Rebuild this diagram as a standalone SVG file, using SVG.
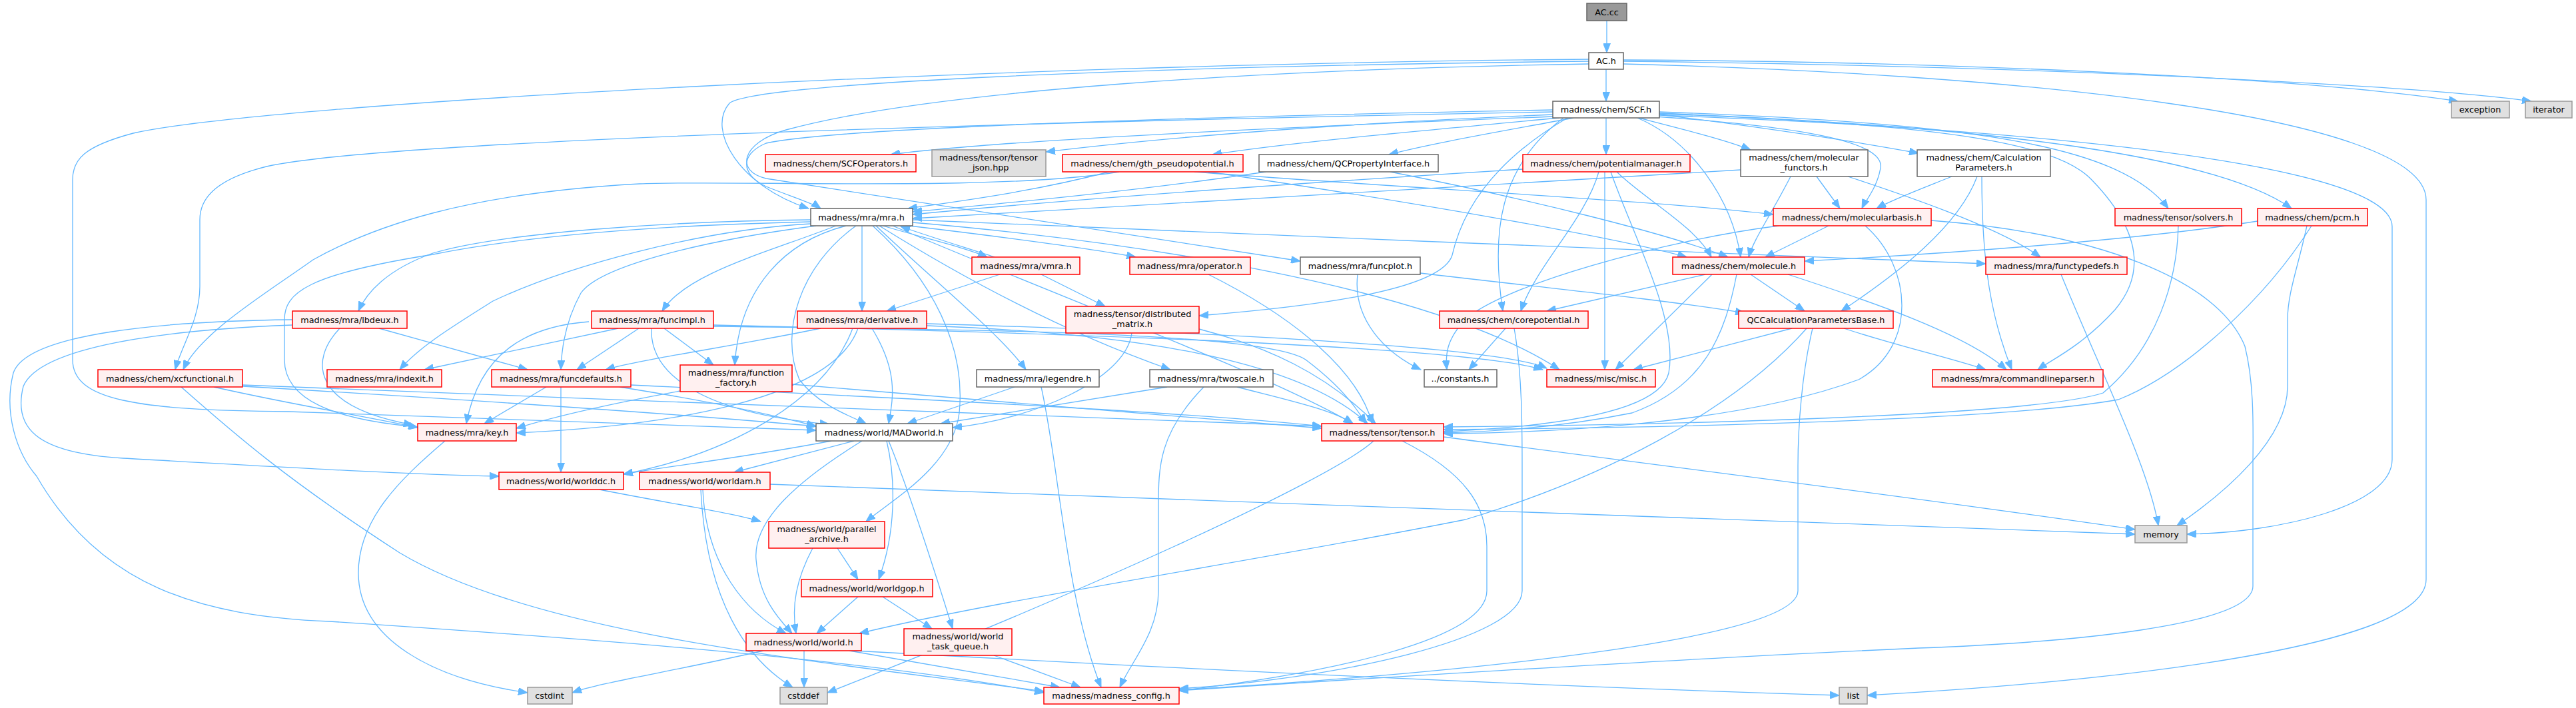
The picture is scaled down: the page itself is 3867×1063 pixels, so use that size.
<svg xmlns="http://www.w3.org/2000/svg" width="3867" height="1063" viewBox="0 0 3867 1063">
<style>
.e path{fill:none;stroke:#63b8ff;stroke-width:1.3;marker-end:url(#a)}
text{font-family:"DejaVu Sans","Liberation Sans",Arial,sans-serif;font-size:12.8px;text-anchor:middle;fill:#000}
.r rect{fill:#fff0f0;stroke:#ff0000;stroke-width:1.5}
.w rect{fill:#ffffff;stroke:#666666;stroke-width:1.5}
.g rect{fill:#e0e0e0;stroke:#999999;stroke-width:1.5}
.d rect{fill:#999999;stroke:#666666;stroke-width:1.5}
</style>
<defs>
<marker id="a" markerUnits="userSpaceOnUse" markerWidth="15" markerHeight="11" refX="14" refY="5.5" orient="auto"><path d="M0,0 L14,5.5 L0,11 z" fill="#63b8ff" stroke="#63b8ff"/></marker>
</defs>
<rect width="3867" height="1063" fill="#ffffff"/>
<g id="edges" class="e">
<path d="M2412,31 L2412,79"/>
<path d="M2411,104 L2411,152"/>
<path d="M2437,90 C2900,92 3450,115 3690,152"/>
<path d="M2437,92 C3000,98 3600,125 3800,152"/>
<path d="M2437,96 C3000,110 3642,170 3642,300 L3642,870 C3642,985 3050,1030 2803,1044"/>
<path d="M2385,92 C1700,100 1130,125 1095,155 C1060,195 1110,280 1214,313"/>
<path d="M2385,96 C1900,104 1400,135 1180,195 C1110,215 1105,258 1150,268 L1952,392"/>
<path d="M2385,89 C1500,96 400,155 200,200 C125,220 109,240 109,270 L109,540 C109,600 200,616 433,618 C750,628 1000,640 1225,646"/>
<path d="M2331,175 C2000,188 1500,210 1337,232"/>
<path d="M2331,172 C2100,182 1800,200 1570,228"/>
<path d="M2340,177 C2150,195 1950,212 1820,232"/>
<path d="M2362,177 C2250,198 2150,215 2085,232"/>
<path d="M2411,177 L2411,232"/>
<path d="M2460,177 C2530,195 2590,210 2628,225"/>
<path d="M2491,172 C2620,188 2760,208 2880,230"/>
<path d="M2485,175 C2700,190 2830,212 2823,252 C2818,282 2800,302 2795,313"/>
<path d="M2491,168 C2950,185 3180,215 3255,313"/>
<path d="M2491,170 C3000,190 3330,235 3440,313"/>
<path d="M2491,173 C3200,200 3591,260 3591,340 L3591,690 C3591,760 3420,800 3283,802"/>
<path d="M2491,171 C2900,186 3085,212 3140,270 C3200,332 3230,400 3175,465 C3125,520 3080,540 3059,555"/>
<path d="M2331,168 C1800,178 600,205 400,250 C320,270 300,300 300,330 L300,430 C300,480 272,520 263,555"/>
<path d="M2331,165 C1800,175 1250,192 1150,215 C1110,232 1112,262 1150,280 C1190,296 1222,306 1232,313"/>
<path d="M2458,177 C2540,212 2600,300 2613,386"/>
<path d="M2347,177 C2250,250 2238,350 2256,467"/>
<path d="M2353,177 C2228,250 2192,330 2180,383 C2165,432 2000,458 1800,474"/>
<path d="M2409,258 L2409,555"/>
<path d="M2400,258 C2380,330 2305,400 2283,467"/>
<path d="M2427,258 C2470,300 2545,340 2569,386"/>
<path d="M2418,258 C2450,350 2520,480 2505,560 C2490,625 2300,642 2167,648"/>
<path d="M2286,254 C1900,278 1600,300 1370,322"/>
<path d="M2087,258 C2300,300 2500,350 2594,386"/>
<path d="M1900,258 C1700,288 1500,306 1370,318"/>
<path d="M1680,258 C1500,288 1100,270 960,276 C700,290 560,340 470,390 C400,440 300,500 275,555"/>
<path d="M1665,258 C1550,288 1440,302 1363,313"/>
<path d="M1793,258 C2100,282 2500,302 2662,322"/>
<path d="M1814,258 C2100,300 2420,355 2532,386"/>
<path d="M2613,255 C2200,282 1700,305 1370,328"/>
<path d="M2688,265 C2660,320 2632,360 2625,386"/>
<path d="M2727,265 L2762,313"/>
<path d="M2774,265 C2850,290 3000,340 3063,386"/>
<path d="M2930,265 C2880,285 2840,300 2817,313"/>
<path d="M2968,265 C2940,340 2850,410 2764,467"/>
<path d="M2975,265 C2975,400 2990,480 3020,555"/>
<path d="M2745,339 L2650,386"/>
<path d="M2800,339 C2870,400 2880,520 2790,570 C2600,640 2300,650 2167,651"/>
<path d="M2899,331 C3150,350 3330,420 3370,520 C3385,580 3382,650 3382,700 L3382,880 C3382,940 3100,965 2880,973 C2500,990 1950,1025 1770,1037"/>
<path d="M2670,339 C2500,360 2250,430 2200,480 C2170,510 2170,535 2172,555"/>
<path d="M3389,332 C3200,362 2900,382 2709,392"/>
<path d="M3463,339 C3450,400 3434,440 3434,480 L3434,580 C3434,660 3340,740 3268,789"/>
<path d="M3470,339 C3400,450 3280,560 3180,600 C3000,632 2500,642 2167,645"/>
<path d="M3270,339 C3268,420 3240,520 3157,590 C3050,625 2500,638 2167,641"/>
<path d="M3094,412 C3150,550 3225,700 3240,789"/>
<path d="M1217,330 C1000,332 750,350 650,380 C580,405 550,440 538,467"/>
<path d="M1217,333 C1000,338 800,352 650,382 C460,412 427,440 427,480 L427,540 C427,600 500,630 627,641"/>
<path d="M1217,336 C1050,345 850,400 740,452 C680,490 630,520 600,555"/>
<path d="M1255,339 C1150,380 1030,410 994,467"/>
<path d="M1225,339 C1050,362 900,400 872,440 C850,480 843,520 842,555"/>
<path d="M1270,339 C1180,362 1110,430 1103,548"/>
<path d="M1294,339 L1294,467"/>
<path d="M1285,339 C1200,400 1170,500 1200,570 C1230,610 1280,626 1300,636"/>
<path d="M1315,339 C1400,420 1500,500 1540,555"/>
<path d="M1320,339 C1450,420 1600,500 1757,555"/>
<path d="M1325,339 C1390,358 1450,372 1482,386"/>
<path d="M1493,386 C1450,372 1395,355 1352,340"/>
<path d="M1365,339 C1500,355 1650,375 1705,386"/>
<path d="M1370,330 C1800,350 2600,380 2981,396"/>
<path d="M1370,334 C1700,362 2150,430 2341,555"/>
<path d="M1340,339 C1600,450 1900,560 2031,636"/>
<path d="M1310,339 C1400,420 1450,520 1440,620 C1430,700 1340,750 1300,783"/>
<path d="M2132,410 C2300,430 2500,450 2619,470"/>
<path d="M2038,412 C2030,480 2080,530 2133,555"/>
<path d="M1501,412 L1331,467"/>
<path d="M1563,412 L1659,460"/>
<path d="M1814,412 C1950,480 2040,560 2060,636"/>
<path d="M439,480 C250,482 40,500 20,560 C5,620 25,680 55,715 C150,880 300,925 495,933 C900,960 1300,990 1567,1040"/>
<path d="M439,488 C250,495 60,520 35,580 C20,640 50,680 185,688 C400,700 600,712 749,715"/>
<path d="M510,493 C465,540 465,610 620,638"/>
<path d="M569,493 L792,555"/>
<path d="M884,483 C790,490 720,530 700,636"/>
<path d="M928,493 L637,555"/>
<path d="M959,493 L866,555"/>
<path d="M997,493 L1071,548"/>
<path d="M978,493 C975,560 1050,620 1245,637"/>
<path d="M1071,490 C1500,495 1900,500 1960,540 C2000,570 2030,600 2050,636"/>
<path d="M1071,488 C1600,500 2200,520 2316,555"/>
<path d="M1232,493 C1100,520 960,540 909,555"/>
<path d="M1288,493 C1250,600 1000,640 775,650"/>
<path d="M1309,493 C1350,560 1340,600 1334,636"/>
<path d="M1391,489 C1700,500 1950,540 2053,636"/>
<path d="M1391,486 C1800,498 2250,520 2322,553"/>
<path d="M1280,493 C1240,600 1100,680 936,712"/>
<path d="M1021,587 C950,600 850,620 775,643"/>
<path d="M1189,577 C1600,610 1850,630 1984,643"/>
<path d="M1800,494 C1900,520 1990,560 2065,636"/>
<path d="M1699,500 C1690,570 1550,630 1430,642"/>
<path d="M1523,581 L1362,636"/>
<path d="M1563,581 C1590,700 1600,900 1653,1032"/>
<path d="M1752,581 L1412,636"/>
<path d="M1807,581 C1740,650 1739,700 1739,760 L1739,887 C1739,950 1700,990 1681,1032"/>
<path d="M1857,581 C1930,600 2000,615 2031,636"/>
<path d="M321,581 C450,610 550,625 627,642"/>
<path d="M365,580 C700,600 1000,620 1225,640"/>
<path d="M364,578 C900,600 1600,625 1984,640"/>
<path d="M272,581 C350,650 430,720 600,830 C800,950 1200,990 1567,1038"/>
<path d="M820,581 L727,636"/>
<path d="M842,581 L842,709"/>
<path d="M947,578 C1400,600 1800,620 1984,640"/>
<path d="M930,581 C1050,600 1150,620 1225,640"/>
<path d="M668,662 C600,720 538,780 538,860 C538,960 650,1020 792,1040"/>
<path d="M1248,662 C1100,690 1000,700 936,712"/>
<path d="M1282,662 L1102,709"/>
<path d="M1294,662 C1200,720 1130,780 1135,840 C1140,900 1170,930 1189,951"/>
<path d="M1331,662 C1345,720 1345,800 1319,870"/>
<path d="M1334,662 C1370,750 1410,880 1430,944"/>
<path d="M2062,662 C2000,720 1600,900 1242,1040"/>
<path d="M2105,662 C2200,710 2232,760 2232,820 L2232,887 C2232,960 2000,1010 1770,1037"/>
<path d="M2167,656 C2500,700 2900,750 3205,795"/>
<path d="M2260,493 L2205,555"/>
<path d="M2273,493 C2285,560 2285,640 2285,700 L2285,887 C2285,960 2000,1020 1770,1034"/>
<path d="M2690,493 L2452,555"/>
<path d="M2712,493 C2600,620 2400,720 2200,780 C1900,840 1500,900 1290,951"/>
<path d="M2721,493 C2705,560 2699,640 2699,700 L2699,887 C2699,960 2200,1010 1770,1036"/>
<path d="M2768,493 C2850,520 2920,535 2981,555"/>
<path d="M2560,412 L2322,467"/>
<path d="M2570,412 L2425,555"/>
<path d="M2628,412 L2709,467"/>
<path d="M2607,412 C2590,500 2560,580 2450,620 C2350,640 2250,648 2167,650"/>
<path d="M2684,412 C2800,450 2950,500 3012,555"/>
<path d="M900,735 C1000,755 1100,770 1142,783"/>
<path d="M1055,735 C1060,850 1120,920 1180,951"/>
<path d="M1052,735 C1060,900 1120,990 1190,1032"/>
<path d="M1155,727 C1800,750 2800,790 3205,802"/>
<path d="M1257,823 L1288,870"/>
<path d="M1220,823 C1195,870 1188,910 1195,951"/>
<path d="M1288,896 L1226,951"/>
<path d="M1325,896 L1399,944"/>
<path d="M1207,977 L1207,1032"/>
<path d="M1275,977 L1591,1032"/>
<path d="M1282,977 C1700,1000 2300,1030 2761,1044"/>
<path d="M1146,977 C1000,1010 900,1025 859,1040"/>
<path d="M1492,984 L1622,1032"/>
</g>
<g id="node-AC_cc" class="d"><rect x="2382" y="5" width="60" height="26"/><text x="2412" y="23">AC.cc</text></g>
<g id="node-AC_h" class="w"><rect x="2385" y="79" width="52" height="25"/><text x="2411" y="96">AC.h</text></g>
<g id="node-SCF_h" class="w"><rect x="2331" y="152" width="160" height="25"/><text x="2411" y="169">madness/chem/SCF.h</text></g>
<g id="node-exception" class="g"><rect x="3680" y="152" width="87" height="25"/><text x="3723" y="169">exception</text></g>
<g id="node-iterator" class="g"><rect x="3791" y="152" width="70" height="25"/><text x="3826" y="169">iterator</text></g>
<g id="node-SCFOperators" class="r"><rect x="1149" y="232" width="226" height="26"/><text x="1262" y="250">madness/chem/SCFOperators.h</text></g>
<g id="node-tensor_json" class="g"><rect x="1399" y="225" width="171" height="40"/><text x="1484" y="241">madness/tensor/tensor</text><text x="1484" y="256">_json.hpp</text></g>
<g id="node-gth" class="r"><rect x="1595" y="232" width="271" height="26"/><text x="1730" y="250">madness/chem/gth_pseudopotential.h</text></g>
<g id="node-QCPropertyInterface" class="w"><rect x="1890" y="232" width="269" height="26"/><text x="2024" y="250">madness/chem/QCPropertyInterface.h</text></g>
<g id="node-potentialmanager" class="r"><rect x="2286" y="232" width="251" height="26"/><text x="2411" y="250">madness/chem/potentialmanager.h</text></g>
<g id="node-molecular_functors" class="w"><rect x="2613" y="225" width="191" height="40"/><text x="2708" y="241">madness/chem/molecular</text><text x="2708" y="256">_functors.h</text></g>
<g id="node-CalculationParameters" class="w"><rect x="2878" y="225" width="200" height="40"/><text x="2978" y="241">madness/chem/Calculation</text><text x="2978" y="256">Parameters.h</text></g>
<g id="node-mra" class="w"><rect x="1217" y="313" width="153" height="26"/><text x="1293" y="331">madness/mra/mra.h</text></g>
<g id="node-molecularbasis" class="r"><rect x="2662" y="313" width="237" height="26"/><text x="2780" y="331">madness/chem/molecularbasis.h</text></g>
<g id="node-solvers" class="r"><rect x="3175" y="313" width="190" height="26"/><text x="3270" y="331">madness/tensor/solvers.h</text></g>
<g id="node-pcm" class="r"><rect x="3389" y="313" width="165" height="26"/><text x="3471" y="331">madness/chem/pcm.h</text></g>
<g id="node-vmra" class="r"><rect x="1459" y="386" width="162" height="26"/><text x="1540" y="404">madness/mra/vmra.h</text></g>
<g id="node-operator" class="r"><rect x="1696" y="386" width="181" height="26"/><text x="1786" y="404">madness/mra/operator.h</text></g>
<g id="node-funcplot" class="w"><rect x="1952" y="386" width="180" height="26"/><text x="2042" y="404">madness/mra/funcplot.h</text></g>
<g id="node-molecule" class="r"><rect x="2511" y="386" width="198" height="26"/><text x="2610" y="404">madness/chem/molecule.h</text></g>
<g id="node-functypedefs" class="r"><rect x="2981" y="386" width="212" height="26"/><text x="3087" y="404">madness/mra/functypedefs.h</text></g>
<g id="node-lbdeux" class="r"><rect x="439" y="467" width="172" height="26"/><text x="525" y="485">madness/mra/lbdeux.h</text></g>
<g id="node-funcimpl" class="r"><rect x="888" y="467" width="183" height="26"/><text x="979" y="485">madness/mra/funcimpl.h</text></g>
<g id="node-derivative" class="r"><rect x="1197" y="467" width="194" height="26"/><text x="1294" y="485">madness/mra/derivative.h</text></g>
<g id="node-distributed_matrix" class="r"><rect x="1600" y="460" width="200" height="40"/><text x="1700" y="476">madness/tensor/distributed</text><text x="1700" y="491">_matrix.h</text></g>
<g id="node-corepotential" class="r"><rect x="2161" y="467" width="223" height="26"/><text x="2272" y="485">madness/chem/corepotential.h</text></g>
<g id="node-QCCalculationParametersBase" class="r"><rect x="2610" y="467" width="232" height="26"/><text x="2726" y="485">QCCalculationParametersBase.h</text></g>
<g id="node-xcfunctional" class="r"><rect x="147" y="555" width="217" height="26"/><text x="255" y="573">madness/chem/xcfunctional.h</text></g>
<g id="node-indexit" class="r"><rect x="491" y="555" width="172" height="26"/><text x="577" y="573">madness/mra/indexit.h</text></g>
<g id="node-funcdefaults" class="r"><rect x="738" y="555" width="209" height="26"/><text x="842" y="573">madness/mra/funcdefaults.h</text></g>
<g id="node-function_factory" class="r"><rect x="1021" y="548" width="168" height="40"/><text x="1105" y="564">madness/mra/function</text><text x="1105" y="579">_factory.h</text></g>
<g id="node-legendre" class="w"><rect x="1466" y="555" width="184" height="26"/><text x="1558" y="573">madness/mra/legendre.h</text></g>
<g id="node-twoscale" class="w"><rect x="1726" y="555" width="185" height="26"/><text x="1818" y="573">madness/mra/twoscale.h</text></g>
<g id="node-constants" class="w"><rect x="2138" y="555" width="109" height="26"/><text x="2192" y="573">../constants.h</text></g>
<g id="node-misc" class="r"><rect x="2322" y="555" width="163" height="26"/><text x="2403" y="573">madness/misc/misc.h</text></g>
<g id="node-commandlineparser" class="r"><rect x="2901" y="555" width="256" height="26"/><text x="3029" y="573">madness/mra/commandlineparser.h</text></g>
<g id="node-key" class="r"><rect x="627" y="636" width="148" height="26"/><text x="701" y="654">madness/mra/key.h</text></g>
<g id="node-MADworld" class="w"><rect x="1225" y="636" width="205" height="26"/><text x="1327" y="654">madness/world/MADworld.h</text></g>
<g id="node-tensor" class="r"><rect x="1984" y="636" width="183" height="26"/><text x="2075" y="654">madness/tensor/tensor.h</text></g>
<g id="node-worlddc" class="r"><rect x="749" y="709" width="187" height="26"/><text x="842" y="727">madness/world/worlddc.h</text></g>
<g id="node-worldam" class="r"><rect x="960" y="709" width="196" height="26"/><text x="1058" y="727">madness/world/worldam.h</text></g>
<g id="node-memory" class="g"><rect x="3205" y="789" width="78" height="26"/><text x="3244" y="807">memory</text></g>
<g id="node-parallel_archive" class="r"><rect x="1154" y="783" width="174" height="40"/><text x="1241" y="799">madness/world/parallel</text><text x="1241" y="814">_archive.h</text></g>
<g id="node-worldgop" class="r"><rect x="1203" y="870" width="197" height="26"/><text x="1301" y="888">madness/world/worldgop.h</text></g>
<g id="node-world" class="r"><rect x="1120" y="951" width="173" height="26"/><text x="1206" y="969">madness/world/world.h</text></g>
<g id="node-world_task_queue" class="r"><rect x="1357" y="944" width="162" height="40"/><text x="1438" y="960">madness/world/world</text><text x="1438" y="975">_task_queue.h</text></g>
<g id="node-cstdint" class="g"><rect x="792" y="1032" width="67" height="25"/><text x="825" y="1049">cstdint</text></g>
<g id="node-cstddef" class="g"><rect x="1171" y="1032" width="71" height="25"/><text x="1206" y="1049">cstddef</text></g>
<g id="node-madness_config" class="r"><rect x="1567" y="1032" width="203" height="25"/><text x="1668" y="1049">madness/madness_config.h</text></g>
<g id="node-list" class="g"><rect x="2761" y="1032" width="42" height="25"/><text x="2782" y="1049">list</text></g>
</svg>
